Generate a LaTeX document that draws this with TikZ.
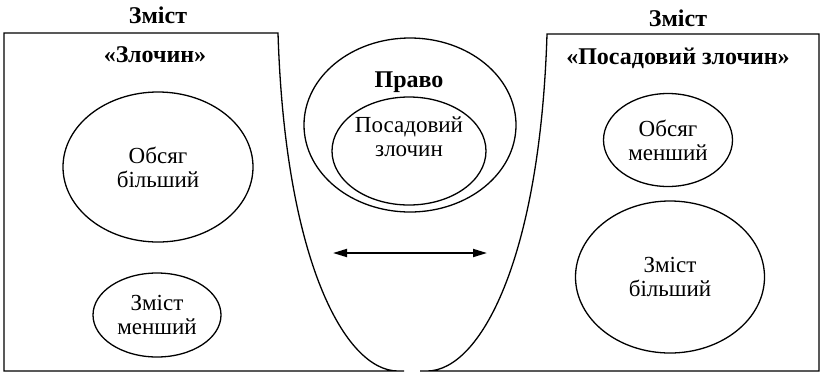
\documentclass[tikz,border=0pt]{standalone}
\usepackage{fontspec}
\setmainfont{Liberation Serif}
\usetikzlibrary{shapes.geometric}
\usetikzlibrary{arrows.meta}

\begin{document}
\begin{tikzpicture}[x=1pt, y=-1pt, line width=1.3pt,
        oval/.style={draw, ellipse, inner sep=0pt, align=center},
        txt/.style={align=center, inner sep=0pt},
        head/.style={txt, font=\fontsize{24}{26}\selectfont\bfseries},
        font=\fontsize{23}{24}\selectfont]
            \useasboundingbox (0,0) rectangle (821,373);
            \draw (404,371) -- (4,371) -- (4,33) -- (278,33)
                .. controls (285,260) and (345,371) .. (398,371);
            \draw (420,371) -- (819,371) -- (819,34) -- (547,34)
                .. controls (540,260) and (480,371) .. (427,371);
            \node [head] (zmistl) at (158,15) {Зміст};
            \node [head] (zmistr) at (678,18) {Зміст};
            \node [head] (zlochyn) at (155,55) {«Злочин»};
            \node [head] (posad) at (678,58) {«Посадовий злочин»};
            \node [oval, minimum width=190pt, minimum height=150pt] (obsbil) at (158,167) {Обсяг\\більший};
            \node [oval, minimum width=128pt, minimum height=84pt] (zmmen) at (157,315) {Зміст\\менший};
            \node [oval, minimum width=129pt, minimum height=93pt] (obsmen) at (668,140) {Обсяг\\менший};
            \node [oval, minimum width=189pt, minimum height=152pt] (zmbil) at (670,277) {Зміст\\більший};
            \node [oval, minimum width=212pt, minimum height=174pt] (pravo) at (410,125) {};
            \node [oval, minimum width=154pt, minimum height=108pt] (posin) at (409,151) {};
            \node [head] (pravotxt) at (409,82) {Право};
            \node [txt] (posintxt) at (409,137) {Посадовий\\злочин};
            \coordinate (al) at (333,253);
            \coordinate (ar) at (487,253);
            \draw [{Triangle[length=14pt,width=8pt]}-{Triangle[length=14pt,width=8pt]}, line width=1.8pt] (al) -- (ar);
        \end{tikzpicture}
\end{document}
